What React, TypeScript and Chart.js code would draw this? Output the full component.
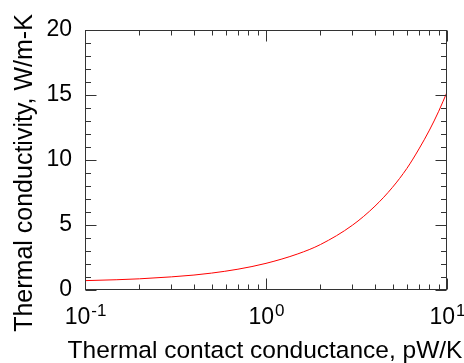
import React, { useEffect, useRef } from 'react';
import { Chart, registerables } from 'chart.js';

Chart.register(...registerables);

// Data
const conductance = [0.1, 0.15, 0.2, 0.3, 0.4, 0.5, 0.7, 1, 1.5, 2, 3, 4, 5, 6, 7, 8, 9, 10];
const conductivity = [0.72, 0.79, 0.86, 1.01, 1.15, 1.3, 1.6, 2.05, 2.78, 3.5, 4.98, 6.45, 7.9, 9.35, 10.85, 12.3, 13.75, 15.22];

const xDecades = [0.1, 1, 10];
const xExponents = ['-1', '0', '1'];
const yTicks = [0, 5, 10, 15, 20];
const xTitle = 'Thermal contact conductance, pW/K';
const yTitle = 'Thermal conductivity, W/m-K';

const FONT = '"Liberation Sans", Arial, sans-serif';
const AXIS_COLOR = '#333333';

const framePlugin = {
  id: 'frame',
  afterDraw(chart: any) {
    const { ctx, chartArea: a, scales } = chart;
    const x = scales.x;
    const y = scales.y;
    const L = Math.round(a.left) + 0.5;
    const R = Math.round(a.right) - 0.5;
    const T = Math.round(a.top) + 0.5;
    const B = Math.round(a.bottom) - 0.5;
    ctx.save();
    ctx.strokeStyle = AXIS_COLOR;
    ctx.lineWidth = 1;
    ctx.strokeRect(L, T, R - L, B - T);

    // y ticks (inward, both sides)
    ctx.beginPath();
    for (let v = y.min; v <= y.max; v += 1) {
      const py = Math.round(y.getPixelForValue(v)) + 0.5;
      const len = v % 5 === 0 ? 11 : 5.5;
      ctx.moveTo(L, py);
      ctx.lineTo(L + len, py);
      ctx.moveTo(R, py);
      ctx.lineTo(R - len, py);
    }
    // x ticks (log, inward, top & bottom)
    for (let d = 0; d < xDecades.length; d++) {
      const dec = xDecades[d];
      const px = Math.round(x.getPixelForValue(dec)) + 0.5;
      ctx.moveTo(px, B);
      ctx.lineTo(px, B - 11);
      ctx.moveTo(px, T);
      ctx.lineTo(px, T + 11);
      if (d < xDecades.length - 1) {
        for (let m = 2; m <= 9; m++) {
          const mx = Math.round(x.getPixelForValue(dec * m)) + 0.5;
          ctx.moveTo(mx, B);
          ctx.lineTo(mx, B - 5);
          ctx.moveTo(mx, T);
          ctx.lineTo(mx, T + 5);
        }
      }
    }
    ctx.stroke();

    // x tick labels with superscripts
    ctx.fillStyle = '#000';
    ctx.textBaseline = 'alphabetic';
    ctx.textAlign = 'left';
    for (let d = 0; d < xDecades.length; d++) {
      const px = x.getPixelForValue(xDecades[d]);
      ctx.font = `23px ${FONT}`;
      const wBase = ctx.measureText('10').width;
      ctx.font = `17px ${FONT}`;
      const wExp = ctx.measureText(xExponents[d]).width;
      const start = px - (wBase + wExp) / 2;
      ctx.font = `23px ${FONT}`;
      ctx.fillText('10', start, a.bottom + 34);
      ctx.font = `17px ${FONT}`;
      ctx.fillText(xExponents[d], start + wBase + 1, a.bottom + 26);
    }

    // axis titles
    ctx.textAlign = 'center';
    ctx.font = `24.5px ${FONT}`;
    ctx.fillText(xTitle, 265, 358);
    ctx.font = `25px ${FONT}`;
    ctx.save();
    ctx.translate(32, 173);
    ctx.rotate(-Math.PI / 2);
    ctx.fillText(yTitle, 0, 0);
    ctx.restore();
    ctx.restore();
  },
};

export default function App() {
  const ref = useRef<HTMLCanvasElement | null>(null);
  useEffect(() => {
    if (!ref.current) return;
    const chart = new Chart(ref.current, {
      type: 'line',
      data: {
        datasets: [
          {
            data: conductance.map((c, i) => ({ x: c, y: conductivity[i] })),
            borderColor: 'rgb(255,0,0)',
            borderWidth: 1,
            pointRadius: 0,
            cubicInterpolationMode: 'monotone',
            fill: false,
          },
        ],
      },
      options: {
        responsive: false,
        maintainAspectRatio: false,
        animation: false,
        layout: { padding: { top: 30, right: 17, left: 0, bottom: 0 } },
        plugins: { legend: { display: false }, tooltip: { enabled: false } },
        scales: {
          x: {
            type: 'logarithmic',
            min: 0.1,
            max: 10,
            grid: { display: false, drawTicks: false },
            border: { display: false },
            ticks: { display: false },
            afterFit: (s: any) => {
              s.height = 73;
            },
          },
          y: {
            min: 0,
            max: 20,
            grid: { display: false, drawTicks: false },
            border: { display: false },
            ticks: {
              padding: 13,
              color: '#000',
              font: { family: FONT, size: 23 },
            },
            afterBuildTicks: (s: any) => {
              s.ticks = yTicks.map((v) => ({ value: v }));
            },
            afterFit: (s: any) => {
              s.width = 85;
            },
          },
        },
      } as any,
      plugins: [framePlugin],
    });
    return () => chart.destroy();
  }, []);
  return (
    <div style={{ position: 'fixed', left: 0, top: 0, width: 464, height: 363, background: '#fff' }}>
      <canvas ref={ref} width={464} height={363} />
    </div>
  );
}
